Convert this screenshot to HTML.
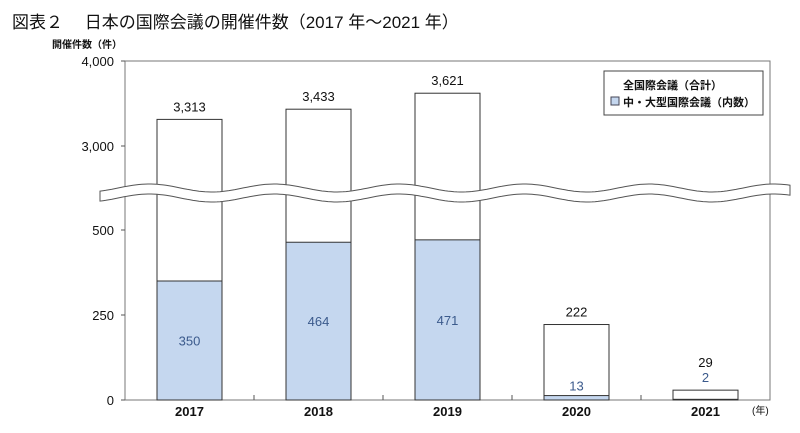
<!DOCTYPE html>
<html><head><meta charset="utf-8"><style>
body{margin:0;background:#fff;width:800px;height:433px;overflow:hidden}
svg{display:block;font-family:"Liberation Sans","Noto Sans CJK JP",sans-serif}
</style></head><body>
<svg width="800" height="433" viewBox="0 0 800 433">
<text x="12" y="28" font-size="17" fill="#111">図表２　 日本の国際会議の開催件数（2017 年～2021 年）</text>
<text x="52" y="48" font-size="10" font-weight="bold" fill="#111">開催件数（件）</text>
<rect x="125" y="61" width="645" height="339" fill="none" stroke="#777" stroke-width="1"/>
<g id="bars"></g>
<g id="ticks"></g>
<path id="wave" fill="#fff" stroke="#555" stroke-width="1"/>
<g id="labels"></g>
<g>
<rect x="604" y="71" width="159" height="44" fill="#fff" stroke="#444"/>
<text x="623" y="89" font-size="11" font-weight="bold" fill="#111">全国際会議（合計）</text>
<rect x="611" y="97" width="8" height="8" fill="#c5d7ef" stroke="#445"/>
<text x="623" y="106" font-size="11" font-weight="bold" fill="#111">中・大型国際会議（内数）</text>
</g>
<text x="752" y="414" font-size="10" fill="#111">(年)</text>
</svg>
<script>
const categories=["2017","2018","2019","2020","2021"];
const totals=[3313,3433,3621,222,29];
const large=[350,464,471,13,2];
const yTicks=[0,250,500,3000,4000];
const yTickLabels=["0","250","500","3,000","4,000"];
const NS="http://www.w3.org/2000/svg";
const X0=125,CW=129,BW=65;
function yScale(v){return v<=500?400-v*0.34:146-(v-3000)*0.085;}
function xc(i){return X0+CW*(i+0.5);}
function mk(tag,attrs,parent,txt){const e=document.createElementNS(NS,tag);for(const k in attrs)e.setAttribute(k,attrs[k]);if(txt!==undefined)e.textContent=txt;document.getElementById(parent).appendChild(e);return e;}
categories.forEach((c,i)=>{
 const bx=xc(i)-BW/2;
 const ty=yScale(totals[i]), ly=yScale(large[i]);
 let e=mk("rect",{x:bx,y:ty,width:BW,height:400-ty,fill:"#fff",stroke:"#333"},"bars");
 
 
 e=mk("rect",{x:bx,y:ly,width:BW,height:400-ly,fill:"#c5d7ef",stroke:"#333"},"bars");
 
 
 const small=totals[i]<100;
 e=mk("text",{x:xc(i),y:small?ty-23:ty-8,"font-size":13,"text-anchor":"middle",fill:"#111"},"labels",totals[i].toLocaleString("en-US"));
 
 
 let lly;
 if(small) lly=ty-8;
 else if(large[i]>100) lly=(ly+400)/2+5;
 else lly=ly-5;
 e=mk("text",{x:xc(i),y:lly,"font-size":13,"text-anchor":"middle",fill:"#3b5a8c"},"labels",String(large[i]));
 
 
 e=mk("text",{x:xc(i),y:416,"font-size":13,"font-weight":"bold","text-anchor":"middle",fill:"#111"},"labels",c);
 
 
 if(i>0){e=mk("line",{x1:X0+CW*i,x2:X0+CW*i,y1:400,y2:395,stroke:"#555"},"ticks");
 
 }
});
yTicks.forEach((t,i)=>{
 let e=mk("line",{x1:121,x2:125,y1:yScale(t),y2:yScale(t),stroke:"#555"},"ticks");
 
 
 e=mk("text",{x:114,y:yScale(t)+5,"font-size":13,"text-anchor":"end",fill:"#111"},"labels",yTickLabels[i]);
 
 
});
let waveTop="",waveBot="";
for(let wx=100;wx<=790;wx+=3){const s=Math.sin((wx-118)/125*2*Math.PI)*4;waveTop+=(wx==100?"M":"L")+wx+","+(188-s).toFixed(1);}
for(let wx=790;wx>=100;wx-=3){const s=Math.sin((wx-118)/125*2*Math.PI)*4;waveBot+="L"+wx+","+(198-s).toFixed(1);}
document.getElementById("wave").setAttribute("d",waveTop+waveBot+"Z");
</script>
</body></html>
